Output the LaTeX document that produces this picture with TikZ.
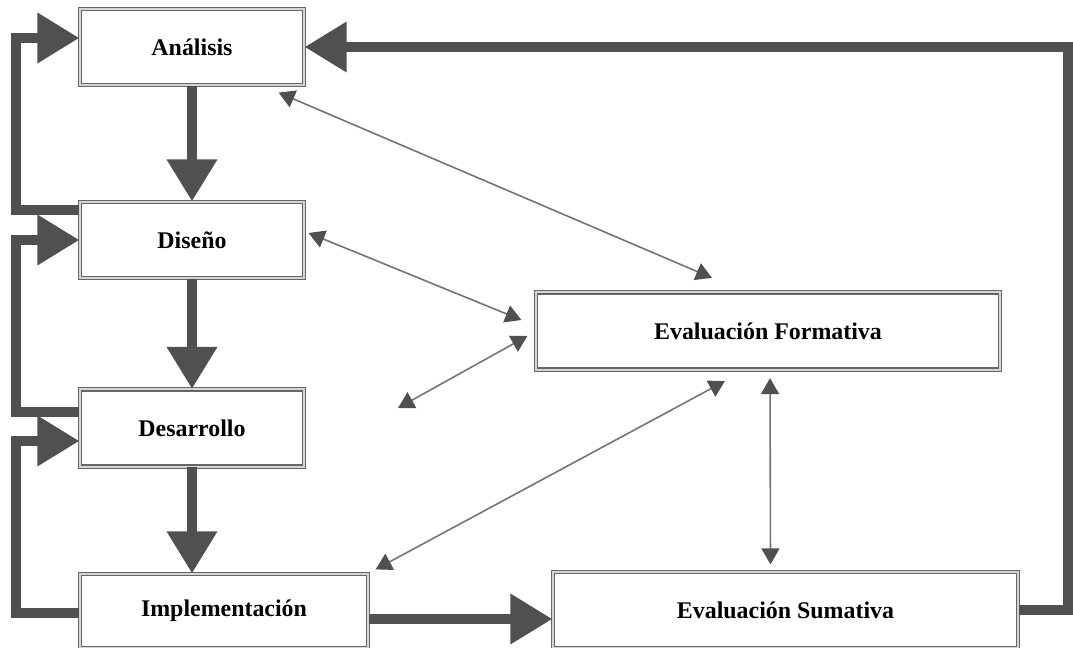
\documentclass[tikz,border=0pt]{standalone}
\usepackage{fontspec}
\setmainfont{Liberation Serif}
\usetikzlibrary{arrows.meta}
\definecolor{grueso}{HTML}{505050}
\definecolor{fino}{HTML}{747474}
\definecolor{borde}{HTML}{666666}
\definecolor{bordein}{HTML}{D4D4D4}

\begin{document}
\begin{tikzpicture}[x=0.25mm, y=0.25mm,
	fase/.style={rectangle, draw=borde, line width=0.3mm, double=bordein, double distance=0.5mm, fill=white, align=center, inner sep=1pt, font=\fontsize{17}{20}\selectfont\bfseries},
	flujo/.style={draw=grueso, line width=2.5mm, line join=miter, -{Triangle[length=10.5mm, width=12mm]}},
	retro/.style={draw=fino, line width=0.4mm, {Triangle[length=4mm, width=4.5mm, color=grueso]}-{Triangle[length=4mm, width=4.5mm, color=grueso]}}]
	\useasboundingbox (0,0) rectangle (1073,-648);
	
	\node[fase, minimum width=56mm, minimum height=19mm] (ana) at (192, -47) {Análisis};
	\node[fase, minimum width=56mm, minimum height=19mm] (dis) at (192, -240) {Diseño};
	\node[fase, minimum width=56mm, minimum height=19.25mm] (des) at (192, -428) {Desarrollo};
	\node[fase, minimum width=72mm, minimum height=18.5mm] (imp) at (224, -611) {Implementación};
	\node[fase, minimum width=116mm, minimum height=19.25mm] (form) at (768, -331) {Evaluación Formativa};
	\node[fase, minimum width=116.25mm, minimum height=19mm] (sum) at (785.5, -610) {Evaluación Sumativa};
	\coordinate (suelto) at (398, -408);
	
	\draw[flujo] (ana) -- (dis);
	\draw[flujo] (dis) -- (des);
	\draw[flujo] (des.south) -- (des.south |- imp.north);
	\draw[flujo] ([yshift=-2mm]imp.east) -- ([yshift=-2mm]imp.east -| sum.west);
	
	\draw[flujo] ([yshift=7.5mm]dis.west) -- ++(-63,0) |- ([yshift=2.25mm]ana.west);
	\draw[flujo] ([yshift=4mm]des.west) -- ++(-63,0) |- (dis.west);
	\draw[flujo] ([yshift=-0.5mm]imp.west) -- ++(-63,0) |- ([yshift=-3.25mm]des.west);
	\draw[flujo] (sum.east) -- ++(49,0) |- (ana.east);
	
	\draw[retro] ([xshift=-6.5mm, yshift=-1.75mm]ana.south east) -- ([xshift=-14mm, yshift=3.5mm]form.north);
	\draw[retro] ([xshift=1mm, yshift=1.75mm]dis.east) -- ([xshift=-3.5mm, yshift=2.75mm]form.west);
	\draw[retro] (suelto) -- ([xshift=-2mm, yshift=-1.25mm]form.west);
	\draw[retro] ([xshift=1.75mm, yshift=1mm]imp.north east) -- ([xshift=-10.75mm, yshift=-2.75mm]form.south);
	\draw[retro] ([xshift=0.5mm, yshift=-2mm]form.south) -- ([xshift=-3.75mm, yshift=1.75mm]sum.north);
\end{tikzpicture}
\end{document}
